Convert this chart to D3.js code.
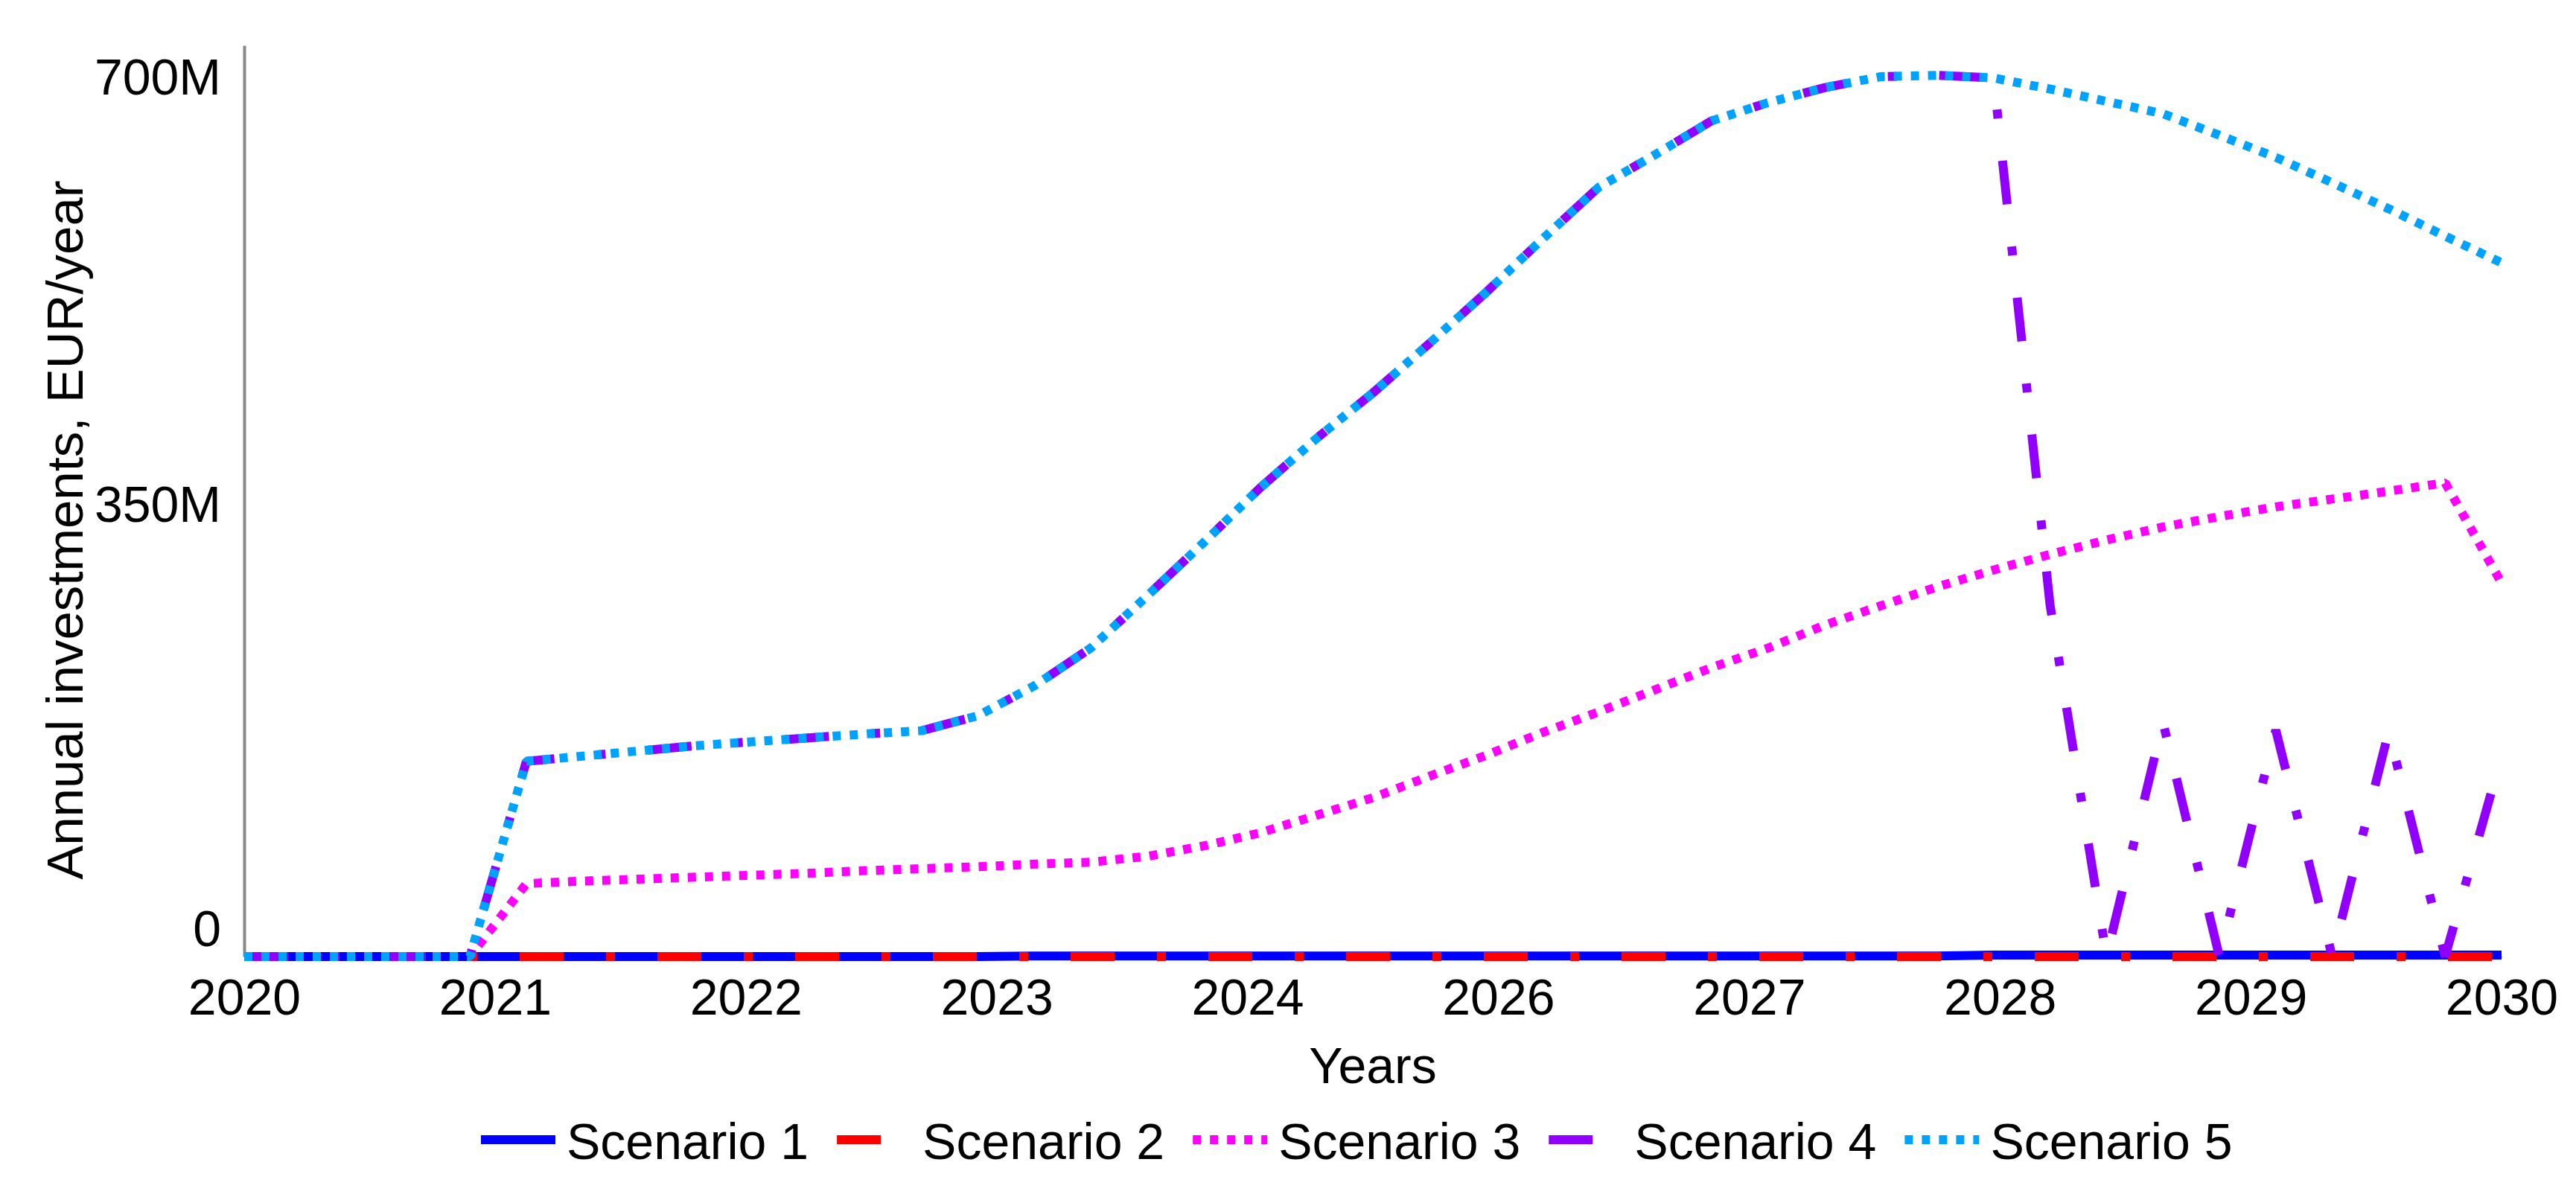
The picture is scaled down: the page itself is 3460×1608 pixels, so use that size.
<!DOCTYPE html>
<html><head><meta charset="utf-8">
<script src="https://cdn.jsdelivr.net/npm/d3@7"></script>
<style>
body{margin:0;background:#fff;}
svg{display:block;background:#fff;}
text{font-family:"Liberation Sans", Arial, Helvetica, sans-serif;fill:#000;}
</style>
</head><body>
<svg id="chart" width="3460" height="1608"></svg>
<script>
// ---- data (values in million EUR/year) ----
const times = [2020,2020.25,2020.5,2020.75,2021,2021.25,2021.5,2021.75,2022,2022.25,2022.5,2022.75,
  2023,2023.25,2023.5,2023.75,2024,2024.25,2024.5,2024.75,2025,2025.25,2025.5,2025.75,
  2026,2026.25,2026.5,2026.75,2027,2027.25,2027.5,2027.75,2028,2028.25,2028.5,2028.75,
  2029,2029.25,2029.5,2029.75,2030];
const scenario1 = [0,0,0,0,0,0,0,0,0,0,0,0,0,0,0.5,0.5,0.5,0.5,0.5,0.5,0.5,0.5,0.5,0.5,
  0.5,0.5,0.5,0.5,0.5,0.5,0.5,1.2,1.2,1.2,1.2,1.2,1.2,1.2,1.2,1.2,1.2];
const scenario2 = [0,0,0,0,0,0,0,0,0,0,0,0,0,0,0,0,0,0,0,0,0,0,0,0,
  0,0,0,0,0,0,0,0,0,0,0,0,0,0,0,0,0];
const scenario3 = [0,0,0,0,0,56,58,59.5,61,62.5,64,66,67.5,69,71,72.5,77,85,95,108.5,
  122,138.5,154.5,172,188,205,222,237,254.5,269.5,284,297,309,320,330,338,345.5,351.5,357.5,364,287];
const scenario4 = [0,0,0,0,0,150,154,158,162,165,168,171,173.5,185,208,237,277,318,360,398,
  433,471,510,551,591,616,642,656,667.5,676,677,675,270,0,180,0,174,0,173,0,154];
const scenario5 = [0,0,0,0,0,150,154,158,162,165,168,171,173.5,185,208,237,277,318,360,398,
  433,471,510,551,591,616,642,656,667.5,676,677,675,666.5,657,647.5,631,614,594.5,574.5,553.5,533];
const seriesNames = ["Scenario 1","Scenario 2","Scenario 3","Scenario 4","Scenario 5"];
const xTickLabels = ["2020","2021","2022","2023","2024","2026","2027","2028","2029","2030"];
const yTickValues = [0,350,700];
const yTickLabels = ["0","350M","700M"];

// ---- styles ----
const colors = ["#0000FF","#FF0000","#FF00FF","#9100FF","#00A2FF"];
const dashes = [null,"59 57 12 57","11 12","59 57 12 57","11 12"];
const allSeries = [scenario1,scenario2,scenario3,scenario4,scenario5];

const svg = d3.select("#chart");
const FS = 68;
const x = d3.scaleLinear().domain([2020,2030]).range([328,3360]);
const y = d3.scaleLinear().domain([0,700]).range([1285,61]);

// x axis
const n = xTickLabels.length;
const xTickPos = xTickLabels.map((_,i)=> x.invert(x.range()[0] + i*(x.range()[1]-x.range()[0])/(n-1)));
const gx = svg.append("g").attr("transform","translate(0,"+y(0)+")")
  .call(d3.axisBottom(x).tickValues(xTickPos).tickFormat((d,i)=>xTickLabels[i]).tickSize(0).tickSizeOuter(0).tickPadding(30));
gx.select(".domain").attr("stroke","#888").attr("stroke-width",3.5);
gx.selectAll("text").attr("font-size",FS).attr("font-family","Liberation Sans, Arial, sans-serif").attr("fill","#000");

// y axis
const gy = svg.append("g").attr("transform","translate("+x(2020)+",0)")
  .call(d3.axisLeft(y).tickValues(yTickValues).tickFormat((d,i)=>yTickLabels[i]).tickSize(0).tickSizeOuter(0).tickPadding(31));
gy.select(".domain").attr("stroke","#888").attr("stroke-width",4);
gy.selectAll("text").attr("font-size",FS).attr("font-family","Liberation Sans, Arial, sans-serif").attr("fill","#000")
  .attr("dy",(d,i)=> i===0 ? "-0.22em" : (i===yTickValues.length-1 ? "0.97em" : "0.4em"));

// lines
const line = d3.line().x((d,i)=>x(times[i])).y(d=>y(d));
allSeries.forEach((s,k)=>{
  svg.append("path").datum(s)
    .attr("d",line)
    .attr("fill","none")
    .attr("stroke",colors[k])
    .attr("stroke-width",12)
    .attr("stroke-linecap","butt")
    .attr("stroke-linejoin","bevel")
    .attr("stroke-dasharray",dashes[k]);
});

// axis titles
svg.append("text").attr("x",(x.range()[0]+x.range()[1])/2).attr("y",1455)
  .attr("text-anchor","middle").attr("font-size",FS).text("Years");
svg.append("text").attr("transform","translate(111,712) rotate(-90)")
  .attr("text-anchor","middle").attr("font-size",69).text("Annual investments, EUR/year");

// legend
const lg = svg.append("g");
let lx = 646;
const ly = 1531;
seriesNames.forEach((name,k)=>{
  lg.append("line").attr("x1",lx).attr("x2",lx+100).attr("y1",ly).attr("y2",ly)
    .attr("stroke",colors[k]).attr("stroke-width",12).attr("stroke-dasharray",dashes[k]);
  const t = lg.append("text").attr("x",lx+115).attr("y",1557).attr("font-size",FS).text(name);
  const w = t.node().getComputedTextLength();
  lx = lx + 115 + w + 38;
});
</script>
</body></html>
